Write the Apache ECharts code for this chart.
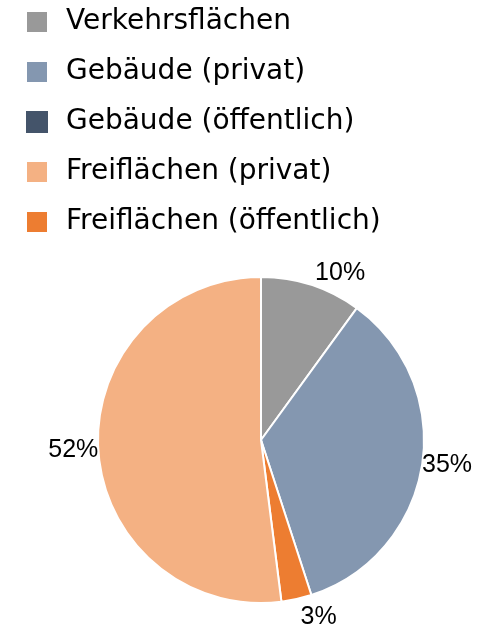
<!DOCTYPE html>
<html>
<head>
<meta charset="utf-8">
<script src="https://cdn.jsdelivr.net/npm/echarts@6/dist/echarts.min.js"></script>
<style>
  html, body { margin: 0; padding: 0; background: #fff; }
  #chart { width: 477px; height: 631px; }
</style>
</head>
<body>
<div id="chart"></div>
<script>
// Legendenreihenfolge
var legendNames = ['Verkehrsflächen', 'Gebäude (privat)', 'Gebäude (öffentlich)', 'Freiflächen (privat)', 'Freiflächen (öffentlich)']
// Reihenfolge im Kreis (im Uhrzeigersinn ab 12 Uhr)
var sliceNames = ['Verkehrsflächen', 'Gebäude (privat)', 'Gebäude (öffentlich)', 'Freiflächen (öffentlich)', 'Freiflächen (privat)']
var sliceValues = [10, 35, 0, 3, 52]
var sliceColors = {
  'Verkehrsflächen': '#999999',
  'Gebäude (privat)': '#8497b0',
  'Gebäude (öffentlich)': '#44546a',
  'Freiflächen (privat)': '#f4b183',
  'Freiflächen (öffentlich)': '#ed7d31'
}
// Abstand der Beschriftung vom Kreisrand
var labelGap = {
  'Verkehrsflächen': 12,
  'Gebäude (privat)': 0,
  'Freiflächen (öffentlich)': 18,
  'Freiflächen (privat)': 0
}
// Beschriftung etwas nach unten schieben
var labelPadTop = {
  'Gebäude (privat)': 12,
  'Freiflächen (privat)': 10
}

var chart = echarts.init(document.getElementById('chart'))

var data = sliceNames.map(function (n, i) {
  var item = {
    name: n,
    value: sliceValues[i],
    itemStyle: { color: sliceColors[n] },
    labelLine: { length: labelGap[n] || 0, length2: 0 },
    label: { padding: [labelPadTop[n] || 0, 0, 0, 0] }
  }
  if (sliceValues[i] === 0) {
    item.label = { show: false }
    item.itemStyle.borderWidth = 0
  }
  return item
})

chart.setOption({
  animation: false,
  legend: {
    orient: 'vertical',
    left: 20,
    top: 3,
    itemWidth: 22,
    itemHeight: 22,
    itemGap: 22,
    icon: 'rect',
    data: legendNames,
    textStyle: {
      fontSize: 28,
      color: '#000',
      fontFamily: '"DejaVu Sans", sans-serif',
      padding: [0, 0, 0, 13]
    }
  },
  series: [{
    type: 'pie',
    center: [261, 440],
    radius: 163,
    startAngle: 90,
    clockwise: true,
    avoidLabelOverlap: false,
    data: data,
    itemStyle: { borderColor: '#fff', borderWidth: 2 },
    label: {
      show: true,
      position: 'outside',
      formatter: '{c}%',
      fontSize: 25,
      color: '#000',
      fontFamily: '"Liberation Sans", Arial, sans-serif',
      distanceToLabelLine: 0
    },
    labelLine: { show: false }
  }]
})
</script>
</body>
</html>
